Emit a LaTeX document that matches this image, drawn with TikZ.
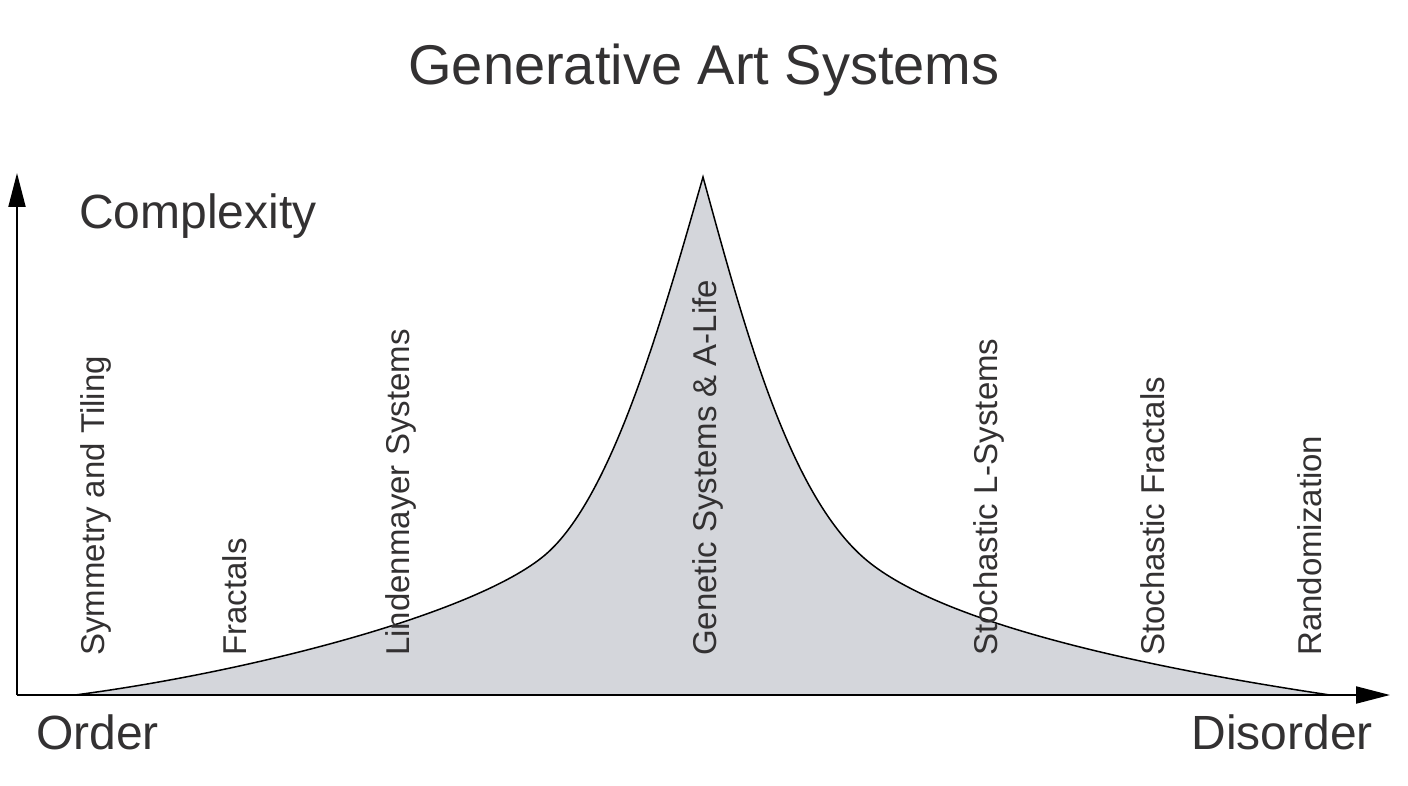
\documentclass[tikz,border=0pt]{standalone}
\usepackage{fontspec}
\setmainfont{Liberation Sans}
\usetikzlibrary{arrows.meta}
\definecolor{txt}{RGB}{51,49,50}
\definecolor{area}{RGB}{212,214,219}
\tikzset{
  axisline/.style={line width=2pt, black, -{Triangle[length=34pt,width=17pt]}},
  curveline/.style={line width=1.5pt, black, fill=area, line join=miter},
  bigtext/.style={text=txt, font=\fontsize{48}{56}\selectfont, inner sep=0},
  titletext/.style={text=txt, font=\fontsize{56}{64}\selectfont, inner sep=0},
  lbl/.style={text=txt, font=\fontsize{33}{40}\selectfont, inner sep=0, rotate=90, anchor=base west}
}
\begin{document}
\begin{tikzpicture}[x=1pt,y=-1pt]
\useasboundingbox (0,0) rectangle (1408,786);
% curve points
\coordinate (c0) at (75,695);
\coordinate (c1) at (545,555);
\coordinate (peak) at (703,177);
\coordinate (c2) at (870,563);
\coordinate (c3) at (1330,695);
% area under curve
\filldraw[curveline] (c0) .. controls (250,672) and (475,614) .. (c1)
  .. controls (612,498) and (662,320) .. (peak)
  .. controls (745,330) and (790,500) .. (c2)
  .. controls (950,626) and (1150,668) .. (c3) -- cycle;
% axes
\coordinate (O) at (17,695);
\coordinate (ytop) at (17,173);
\coordinate (xend) at (1390,695);
\draw[axisline] (O) -- (ytop);
\draw[axisline] (O) -- (xend);
% texts
\node[titletext, anchor=base] (title) at (704,85) {Generative Art Systems};
\node[bigtext, anchor=base west] (cplx) at (79,229) {Complexity};
\node[bigtext, anchor=base west] (order) at (36,749) {Order};
\node[bigtext, anchor=base east] (disorder) at (1373,749) {Disorder};
\node[lbl] (l1) at (104,656) {Symmetry and Tiling};
\node[lbl] (l2) at (246,656) {Fractals};
\node[lbl] (l3) at (409,656) {Lindenmayer Systems};
\node[lbl] (l4) at (716,656) {Genetic Systems \& A-Life};
\node[lbl] (l5) at (997,656) {Stochastic L-Systems};
\node[lbl] (l6) at (1164,656) {Stochastic Fractals};
\node[lbl] (l7) at (1321,656) {Randomization};
\end{tikzpicture}
\end{document}
